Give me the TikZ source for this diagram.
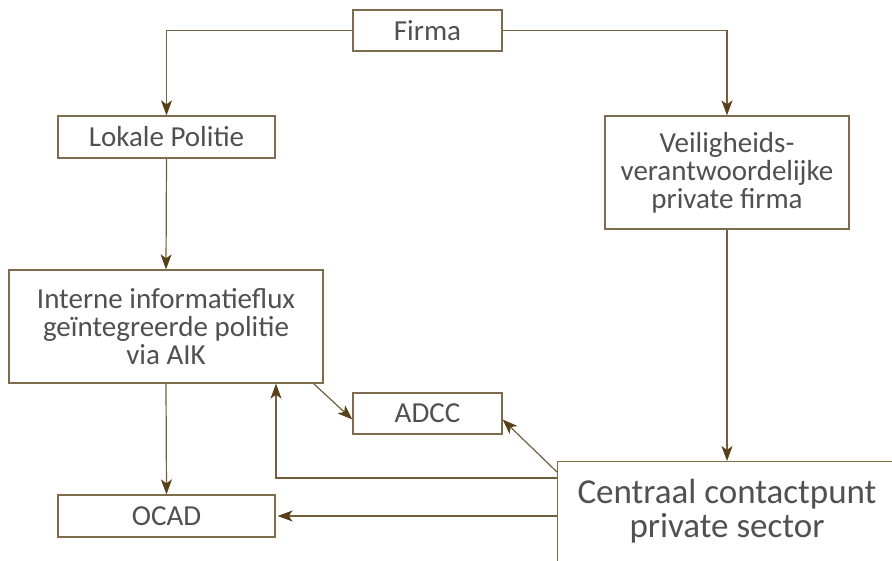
\documentclass[tikz,border=0pt]{standalone}
\usepackage{fontspec}
\setmainfont{Carlito}
\usetikzlibrary{arrows.meta,calc}
\definecolor{boxc}{RGB}{125,108,78}
\definecolor{linec}{RGB}{115,95,62}
\definecolor{tipc}{RGB}{88,64,24}
\definecolor{txtc}{RGB}{80,80,80}
\tikzset{
  box/.style={draw=boxc, line width=1.3pt, rectangle, inner sep=0pt, align=center,
    text=txtc, font=\fontsize{29}{28}\selectfont, fill=white},
  arr/.style={draw=linec, line width=1.2pt, -{Stealth[length=15pt,width=11pt,inset=4pt,fill=tipc,color=tipc]}},
}
\begin{document}
\begin{tikzpicture}[x=1pt,y=-1pt]
\useasboundingbox[fill=white] (0,0) rectangle (892,560);
\begin{scope}
\clip (0,0) rectangle (892,560);
\node[box, minimum width=149pt, minimum height=41pt] (firma) at (427.5,30.5) {Firma};
\node[box, minimum width=217pt, minimum height=42pt] (lokale) at (166.5,137) {Lokale Politie};
\node[box, minimum width=244pt, minimum height=113pt] (veil) at (727,172.5) {Veiligheids-\\verantwoordelijke\\private firma};
\node[box, minimum width=314pt, minimum height=113pt] (interne) at (166,326.5) {Interne informatieflux\\geïntegreerde politie\\via AIK};
\node[box, minimum width=149pt, minimum height=41pt] (adcc) at (427.5,413.5) {ADCC};
\node[box, minimum width=217pt, minimum height=42pt] (ocad) at (166.5,516) {OCAD};
\node[box, minimum width=380pt, minimum height=140pt, anchor=north west] (centraal) at (557,461) {};
\node[text=txtc, align=center, font=\fontsize{35}{34}\selectfont, inner sep=0pt] (ctext) at (727,511) {Centraal contactpunt\\private sector};
\coordinate (ie) at ($(interne.south east)+(-10,0)$);
\coordinate (ce) at ($(centraal.north west)+(0,11)$);
\coordinate (cl) at ($(centraal.north west)+(0,17)$);
\coordinate (iu) at ($(interne.south)+(110,0)$);
\draw[arr] (firma.west) -| (lokale.north);
\draw[arr] (firma.east) -| (veil.north);
\draw[arr] (lokale.south) -- (interne.north);
\draw[arr] (veil.south) -- (veil.south |- centraal.north);
\draw[arr] (interne.south) -- (ocad.north);
\draw[arr] (ie) -- ($(adcc.west)+(0,6)$);
\draw[arr] (ce) -- ($(adcc.east)+(0,6)$);
\draw[arr] (cl) -| (iu);
\draw[arr] (ocad.east -| centraal.west) -- ($(ocad.east)+(2,0)$);
\end{scope}
\end{tikzpicture}
\end{document}
